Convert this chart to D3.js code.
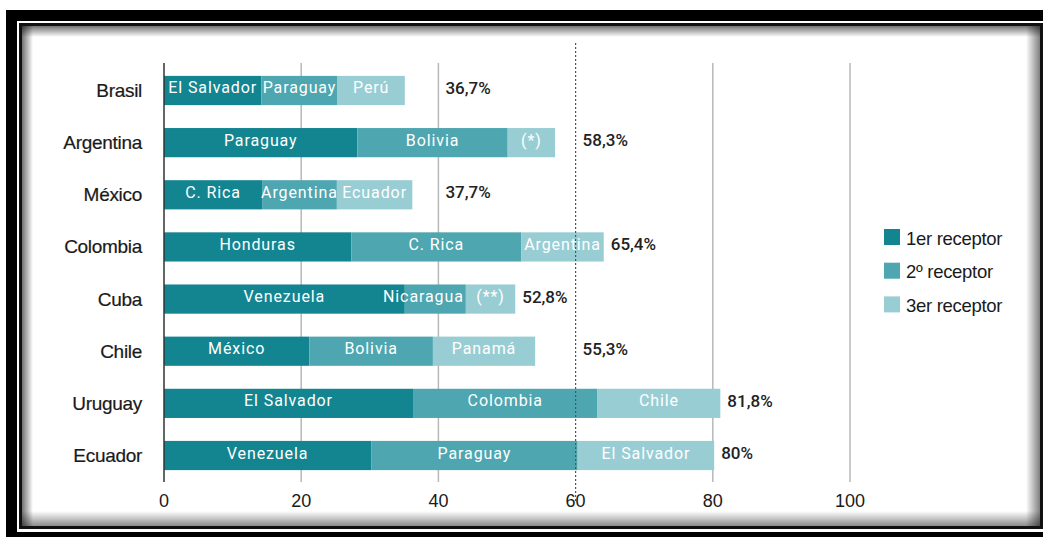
<!DOCTYPE html>
<html>
<head>
<meta charset="utf-8">
<script src="https://cdn.jsdelivr.net/npm/d3@7"></script>
<style>
  html, body { margin: 0; padding: 0; background: #fff; }
  svg { display: block; }
</style>
</head>
<body>
<div id="chart"></div>
<script>
// data
const categories = ["Brasil", "Argentina", "México", "Colombia", "Cuba", "Chile", "Uruguay", "Ecuador"];
const firstValues = [14.2, 28.2, 14.3, 27.3, 35.1, 21.2, 36.3, 30.2];
const secondValues = [11.1, 21.9, 10.9, 24.8, 8.9, 18.0, 26.9, 30.1];
const thirdValues = [9.8, 6.9, 11.0, 12.0, 7.2, 14.9, 17.9, 19.9];
const firstNames = ["El Salvador", "Paraguay", "C. Rica", "Honduras", "Venezuela", "México", "El Salvador", "Venezuela"];
const secondNames = ["Paraguay", "Bolivia", "Argentina", "C. Rica", "Nicaragua", "Bolivia", "Colombia", "Paraguay"];
const thirdNames = ["Perú", "(*)", "Ecuador", "Argentina", "(**)", "Panamá", "Chile", "El Salvador"];
const totalLabels = ["36,7%", "58,3%", "37,7%", "65,4%", "52,8%", "55,3%", "81,8%", "80%"];
const seriesNames = ["1er receptor", "2º receptor", "3er receptor"];
const xTicks = [0, 20, 40, 60, 80, 100];
const referenceValue = 60;

const colors = ["#128591", "#4ea6b0", "#98cdd4"];
const W = 1043, H = 537;

const svg = d3.select("#chart").append("svg")
    .attr("width", W)
    .attr("height", H);

// frame: thick black outer border + inner panel with inset shadow
svg.append("rect").attr("width", W).attr("height", H).attr("fill", "#fff");
svg.append("rect")
    .attr("x", 11.5).attr("y", 15.5)
    .attr("width", 1070).attr("height", 522)
    .attr("fill", "none").attr("stroke", "#000").attr("stroke-width", 11);

const defs = svg.append("defs");
const grad = (id, x1, y1, x2, y2, o1, o2) => {
    const g = defs.append("linearGradient").attr("id", id)
        .attr("x1", x1).attr("y1", y1).attr("x2", x2).attr("y2", y2);
    g.append("stop").attr("offset", "0%").attr("stop-color", "#000").attr("stop-opacity", o1);
    g.append("stop").attr("offset", "100%").attr("stop-color", "#000").attr("stop-opacity", o2);
};
grad("shTop", 0, 0, 0, 1, 0.55, 0);
grad("shLeft", 0, 0, 1, 0, 0.55, 0);
grad("shRight", 0, 0, 1, 0, 0, 0.5);
grad("shBottom", 0, 0, 0, 1, 0, 0.45);

svg.append("rect").attr("x", 22).attr("y", 26).attr("width", 1018).attr("height", 500).attr("fill", "#fff");
svg.append("rect").attr("x", 22).attr("y", 26).attr("width", 1018).attr("height", 11).attr("fill", "url(#shTop)");
svg.append("rect").attr("x", 22).attr("y", 26).attr("width", 11).attr("height", 500).attr("fill", "url(#shLeft)");
svg.append("rect").attr("x", 1026).attr("y", 26).attr("width", 14).attr("height", 500).attr("fill", "url(#shRight)");
svg.append("rect").attr("x", 22).attr("y", 511).attr("width", 1018).attr("height", 15).attr("fill", "url(#shBottom)");
svg.append("rect")
    .attr("x", 20.5).attr("y", 24.5)
    .attr("width", 1021).attr("height", 503)
    .attr("fill", "none").attr("stroke", "#111").attr("stroke-width", 3);

// scales
const x = d3.scaleLinear().domain([0, 100]).range([164, 850]);
const y = d3.scaleBand().domain(categories).range([64, 482])
    .paddingInner(0.44).paddingOuter(0.228);

// gridlines (solid, behind bars)
svg.append("g")
    .selectAll("line")
    .data(xTicks.filter(t => t !== 0 && t !== referenceValue))
    .join("line")
    .attr("x1", d => x(d)).attr("x2", d => x(d))
    .attr("y1", 63).attr("y2", 482)
    .attr("stroke", "#b8b8b8").attr("stroke-width", 1.5);

// stacked bars
const rows = categories.map((c, i) => ({
    cat: c,
    values: [firstValues[i], secondValues[i], thirdValues[i]],
    names: [firstNames[i], secondNames[i], thirdNames[i]],
    total: totalLabels[i]
}));

const segs = [];
rows.forEach(r => {
    let acc = 0;
    r.values.forEach((v, k) => {
        segs.push({ cat: r.cat, k: k, x0: acc, x1: acc + v, name: r.names[k] });
        acc += v;
    });
    r.end = acc;
});

svg.append("g")
    .selectAll("rect")
    .data(segs)
    .join("rect")
    .attr("x", d => x(d.x0))
    .attr("y", d => y(d.cat))
    .attr("width", d => x(d.x1) - x(d.x0))
    .attr("height", y.bandwidth())
    .attr("fill", d => colors[d.k]);

// segment names: centred, or right-aligned when they don't fit
svg.append("g")
    .selectAll("text")
    .data(segs)
    .join("text")
    .attr("y", d => y(d.cat) + y.bandwidth() / 2 + 3)
    .style("font-family", "Roboto, 'DejaVu Sans', sans-serif")
    .style("font-size", "16px")
    .style("letter-spacing", "0.9px")
    .style("fill", "#fff")
    .text(d => d.name)
    .each(function(d) {
        const w = this.getComputedTextLength();
        const segW = x(d.x1) - x(d.x0);
        if (w > segW + 4) {
            d3.select(this).attr("text-anchor", "end").attr("x", x(d.x1) - 2);
        } else {
            d3.select(this).attr("text-anchor", "middle").attr("x", (x(d.x0) + x(d.x1)) / 2);
        }
    });

// axis line at 0
svg.append("line")
    .attr("x1", x(0)).attr("x2", x(0))
    .attr("y1", 63).attr("y2", 482)
    .attr("stroke", "#333").attr("stroke-width", 1.5);

// dotted reference line on top of the bars
svg.append("line")
    .attr("x1", x(referenceValue)).attr("x2", x(referenceValue))
    .attr("y1", 43).attr("y2", 502)
    .attr("stroke", "#555").attr("stroke-width", 1.2)
    .attr("stroke-dasharray", "2,2");

// total labels, pushed past any gridline they would cross
const gridXs = xTicks.filter(t => t !== 0).map(t => x(t));
const totals = svg.append("g")
    .selectAll("text")
    .data(rows)
    .join("text")
    .attr("y", d => y(d.cat) + y.bandwidth() / 2 + 3.5)
    .style("font-family", "Roboto, 'DejaVu Sans', sans-serif")
    .style("font-size", "17px")
    .style("font-weight", "500")
    .style("fill", "#222")
    .text(d => d.total);
totals.each(function(d) {
    const w = this.getComputedTextLength();
    let start = x(d.end) + 7;
    gridXs.forEach(g => {
        if (g > start - 2 && g < start + w + 2) start = g + 7;
    });
    d3.select(this).attr("x", start);
});

// category labels
svg.append("g")
    .selectAll("text")
    .data(categories)
    .join("text")
    .attr("x", 142)
    .attr("y", d => y(d) + y.bandwidth() / 2 + 6.5)
    .attr("text-anchor", "end")
    .style("font-family", "'Liberation Sans', Arial, sans-serif")
    .style("font-size", "19px")
    .style("letter-spacing", "-0.3px")
    .style("fill", "#1a1a1a")
    .style("stroke", "#1a1a1a")
    .style("stroke-width", "0.2px")
    .text(d => d);

// x tick labels
svg.append("g")
    .selectAll("text")
    .data(xTicks)
    .join("text")
    .attr("x", d => x(d))
    .attr("y", 506.5)
    .attr("text-anchor", "middle")
    .style("font-family", "'Liberation Sans', Arial, sans-serif")
    .style("font-size", "18px")
    .style("fill", "#1a1a1a")
    .text(d => d);

// legend
const legend = svg.append("g")
    .selectAll("g")
    .data(seriesNames)
    .join("g")
    .attr("transform", (d, i) => `translate(884, ${229 + i * 33.7})`);
legend.append("rect")
    .attr("width", 16).attr("height", 16)
    .attr("fill", (d, i) => colors[i]);
legend.append("text")
    .attr("x", 22).attr("y", 15.5)
    .style("font-family", "'Liberation Sans', Arial, sans-serif")
    .style("font-size", "18.5px")
    .style("letter-spacing", "-0.3px")
    .style("fill", "#1a1a1a")
    .text(d => d);
</script>
</body>
</html>
